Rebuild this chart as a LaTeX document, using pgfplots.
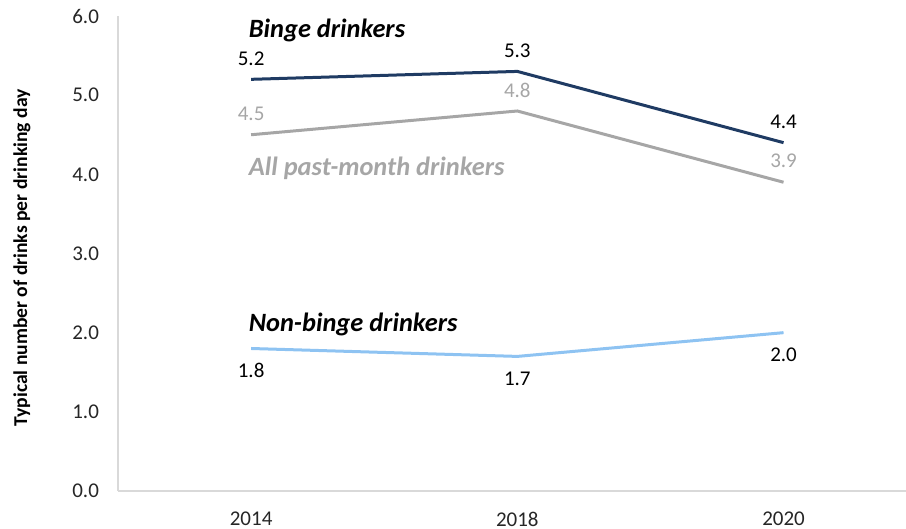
\documentclass[border=0pt]{standalone}
\usepackage{pgfplots}
\pgfplotsset{compat=1.18}
\usepackage{fontspec}
\setmainfont{Carlito}
\definecolor{binge}{HTML}{1F3B63}
\definecolor{allc}{HTML}{A6A6A6}
\definecolor{nonb}{HTML}{8EC3F2}
\definecolor{axgray}{HTML}{D9D9D9}
\definecolor{txt}{HTML}{262626}
\begin{document}
\begin{tikzpicture}
\begin{axis}[
  at={(0,0)}, anchor=south west,
  scale only axis, width=394pt, height=237.5pt,
  xmin=-0.5, xmax=2.46, ymin=0, ymax=6,
  axis x line=bottom, axis y line=left,
  axis line style={draw=axgray, line width=0.6pt, -},
  xtick={0,1,2}, xticklabels={2014,2018,2020},
  ytick={0,1,2,3,4,5,6}, yticklabels={0.0,1.0,2.0,3.0,4.0,5.0,6.0},
  major tick length=0pt,
  tick label style={font=\fontsize{10.5}{12}\selectfont, text=txt},
  yticklabel style={xshift=-6pt},
  xticklabel style={yshift=-7pt},
  clip=false,
  nodes near coords,
  point meta=explicit symbolic,
  every node near coord/.append style={font=\fontsize{10.5}{12}\selectfont, anchor=center},
]
\addplot[binge, line width=1.5pt, mark=none, every node near coord/.append style={yshift=10.5pt, text=black}]
  coordinates {(0,5.2) [5.2] (1,5.3) [5.3] (2,4.4) [4.4]};
\addplot[allc, line width=1.5pt, mark=none, every node near coord/.append style={yshift=10.5pt, text=allc}]
  coordinates {(0,4.5) [4.5] (1,4.8) [4.8] (2,3.9) [3.9]};
\addplot[nonb, line width=1.5pt, mark=none, every node near coord/.append style={yshift=-11pt, text=black}]
  coordinates {(0,1.8) [1.8] (1,1.7) [1.7] (2,2.0) [2.0]};
\node[anchor=west, font=\fontsize{13.2}{15}\selectfont\bfseries\itshape, text=black, inner sep=0pt] at (axis cs:-0.01,5.82) {Binge drinkers};
\node[anchor=west, font=\fontsize{13.2}{15}\selectfont\bfseries\itshape, text=allc, inner sep=0pt] at (axis cs:-0.01,4.08) {All past-month drinkers};
\node[anchor=west, font=\fontsize{13.2}{15}\selectfont\bfseries\itshape, text=black, inner sep=0pt] at (axis cs:-0.01,2.10) {Non-binge drinkers};
\end{axis}
\node[rotate=90, anchor=center, inner sep=0pt, font=\fontsize{9.8}{11}\selectfont\bfseries] at (-48pt,116.5pt) {Typical number of drinks per drinking day};
\pgfresetboundingbox
\path (-59pt,-19pt) rectangle (394pt,245.5pt);
\end{tikzpicture}
\end{document}
